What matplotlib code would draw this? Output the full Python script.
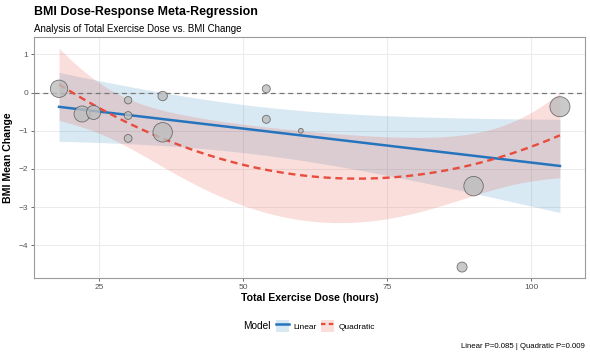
import numpy as np
import matplotlib.pyplot as plt
from matplotlib.patches import Patch
from matplotlib.lines import Line2D

plt.rcParams['font.family'] = ['Liberation Sans', 'DejaVu Sans']

# Study data: total dose (hours), BMI mean change, study weight
# (point area in the chart grows linearly with the weight)
dose = [18, 22, 24, 30, 30, 30, 36, 36, 54, 54, 60, 88, 90, 105]
bmi_change = [0.10, -0.56, -0.52, -0.20, -0.60, -1.20, -0.09, -1.04,
              0.10, -0.70, -1.00, -4.57, -2.45, -0.37]
study_weight = [70.0, 59.0, 44.0, 8.4, 9.9, 9.9, 16.8, 89.0,
                10.7, 10.7, 0.5, 19.7, 89.0, 95.0]

model_names = ['Linear', 'Quadratic']
p_values = [0.085, 0.009]

x_ticks = [25, 50, 75, 100]
y_ticks = [-4, -3, -2, -1, 0, 1]

BLUE = '#2574BE'
BLUE_FILL = '#2E86C1'
RED = '#E74C3C'
Z_CRIT = 1.96
VAR_SCALE = 25.0  # sampling variance = VAR_SCALE / weight


# Random-effects meta-regression (DerSimonian-Laird tau^2) with 95% CI of the fitted mean
def meta_regression(x, y, v, degree, grid):
    X = np.vander(x, degree + 1, increasing=True)
    w_fe = 1 / v
    XtWX = X.T @ (X * w_fe[:, None])
    beta_fe = np.linalg.solve(XtWX, X.T @ (w_fe * y))
    q_e = np.sum(w_fe * (y - X @ beta_fe) ** 2)
    denom = w_fe.sum() - np.trace(np.linalg.solve(XtWX, X.T @ (X * (w_fe ** 2)[:, None])))
    tau2 = max(0.0, (q_e - (len(x) - degree - 1)) / denom)

    w = 1 / (v + tau2)
    XtWX = X.T @ (X * w[:, None])
    beta = np.linalg.solve(XtWX, X.T @ (w * y))
    cov = np.linalg.inv(XtWX)
    G = np.vander(grid, degree + 1, increasing=True)
    fit = G @ beta
    se = np.sqrt(np.einsum('ij,jk,ik->i', G, cov, G))
    return fit, fit - Z_CRIT * se, fit + Z_CRIT * se


def main():
    x = np.array(dose, dtype=float)
    y = np.array(bmi_change, dtype=float)
    wt = np.array(study_weight, dtype=float)
    v = VAR_SCALE / wt
    grid = np.linspace(x.min(), x.max(), 80)

    lin_fit, lin_lo, lin_hi = meta_regression(x, y, v, 1, grid)
    quad_fit, quad_lo, quad_hi = meta_regression(x, y, v, 2, grid)

    fig = plt.figure(figsize=(5.9, 3.54), dpi=100)
    ax = fig.add_axes([0.0576, 0.2147, 0.9339, 0.6799])

    # ribbons
    ax.fill_between(grid, lin_lo, lin_hi, color=BLUE_FILL, alpha=0.18, lw=0, zorder=2)
    ax.fill_between(grid, quad_lo, quad_hi, color=RED, alpha=0.18, lw=0, zorder=2)

    ax.axhline(0, color='#777777', lw=0.9, ls=(0, (4, 3)), zorder=3)

    ax.plot(grid, lin_fit, color=BLUE, lw=1.8, zorder=4)
    ax.plot(grid, quad_fit, color=RED, lw=1.7, ls=(0, (3, 2)), zorder=4)

    # point area grows linearly with weight
    radius_pt = np.sqrt(5.3 + wt) * 0.72
    ax.scatter(x, y, s=(2 * radius_pt) ** 2, facecolor='#bdbdbd', edgecolor='#555555',
               linewidth=0.6, alpha=0.8, zorder=5)

    # limits with 5% expansion like ggplot
    xr = x.max() - x.min()
    ax.set_xlim(x.min() - 0.05 * xr, x.max() + 0.05 * xr)
    ymin = min(y.min(), lin_lo.min(), quad_lo.min())
    ymax = max(y.max(), lin_hi.max(), quad_hi.max())
    yr = ymax - ymin
    ax.set_ylim(ymin - 0.05 * yr, ymax + 0.05 * yr)

    ax.set_xticks(x_ticks)
    ax.set_yticks(y_ticks)
    ax.grid(True, color='#ebebeb', lw=0.7, zorder=0)
    ax.set_axisbelow(True)
    ax.tick_params(length=2, width=0.6, color='#555555', labelsize=6.0,
                   labelcolor='#555555', pad=2)
    for sp in ax.spines.values():
        sp.set_color('#9a9a9a')
        sp.set_linewidth(0.8)

    ax.set_xlabel('Total Exercise Dose (hours)', fontsize=7.6, fontweight='bold', labelpad=2)
    ax.set_ylabel('BMI Mean Change', fontsize=7.6, fontweight='bold', labelpad=4)

    fig.text(34 / 590, 1 - 12 / 354, 'BMI Dose-Response Meta-Regression',
             fontsize=8.9, fontweight='bold', va='center', ha='left')
    fig.text(34 / 590, 1 - 29 / 354, 'Analysis of Total Exercise Dose vs. BMI Change',
             fontsize=7.0, va='center', ha='left')

    # legend at the bottom with the title on the left
    handles = [
        (Patch(facecolor=BLUE_FILL, alpha=0.18, lw=0), Line2D([], [], color=BLUE, lw=1.8)),
        (Patch(facecolor=RED, alpha=0.18, lw=0), Line2D([], [], color=RED, lw=1.6, ls=(0, (2, 1.5)))),
    ]
    fig.text(243 / 590, 1 - 326 / 354, 'Model', fontsize=7.3, va='center', ha='left')
    fig.legend(handles, model_names, loc='center left', bbox_to_anchor=(276 / 590, 1 - 326 / 354),
               ncol=2, frameon=False, fontsize=6.0, handlelength=1.6, handleheight=2.0,
               columnspacing=0.5, handletextpad=0.5, borderaxespad=0, borderpad=0)

    caption = ' | '.join(f'{m} P={p:.3f}' for m, p in zip(model_names, p_values))
    fig.text(585 / 590, 1 - 347 / 354, caption, fontsize=5.6, va='center', ha='right')

    fig.savefig('out.png', dpi=100)
    plt.close(fig)


if __name__ == '__main__':
    main()
